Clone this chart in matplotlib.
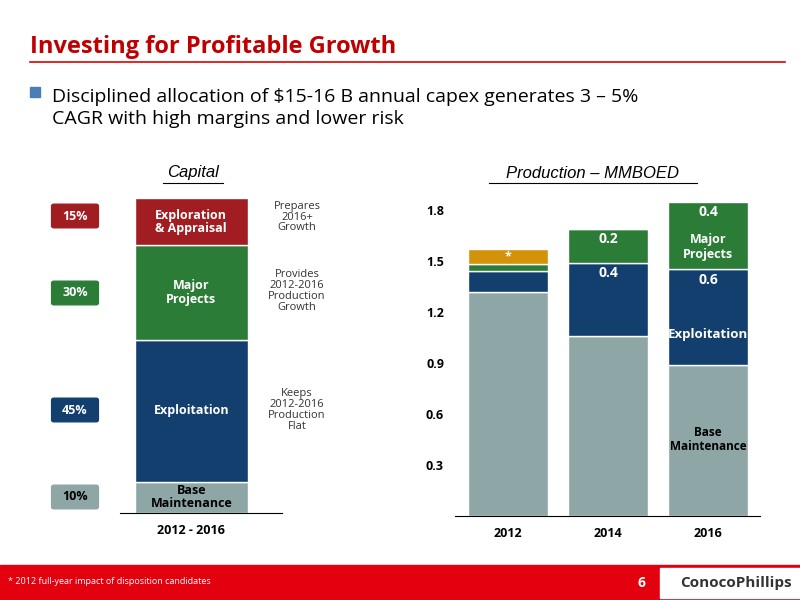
import matplotlib
matplotlib.use("Agg")
import matplotlib.pyplot as plt
from matplotlib.patches import FancyBboxPatch, Rectangle

cap_labels = ["Base\nMaintenance", "Exploitation", "Major\nProjects", "Exploration\n& Appraisal"]
cap_pct = [10, 45, 30, 15]
cap_notes = ["", "Keeps\n2012-2016\nProduction\nFlat", "Provides\n2012-2016\nProduction\nGrowth", "Prepares\n2016+\nGrowth"]

years = ["2012", "2014", "2016"]
base = [1.32, 1.06, 0.89]
exploit = [0.12, 0.43, 0.56]
major = [0.04, 0.20, 0.40]
other = [0.09, 0.0, 0.0]

C_GRAY, C_NAVY, C_GREEN, C_RED, C_GOLD = "#8FA6A6", "#123F6D", "#2B7C36", "#A11D21", "#D4920A"
cap_colors = [C_GRAY, C_NAVY, C_GREEN, C_RED]

plt.rcParams['font.family'] = ['Open Sans', 'DejaVu Sans']
fig = plt.figure(figsize=(8, 6), dpi=100)
W, H = 800, 600
def fx(x): return x / W
def fy(y): return 1 - y / H

fig.text(fx(30), fy(47), "Investing for Profitable Growth", color="#C00000", fontsize=17, fontweight="bold", va="center")
fig.add_artist(plt.Line2D([fx(30), fx(785)], [fy(62), fy(62)], color="#E00000", lw=1.2))
fig.add_artist(Rectangle((fx(30), fy(97)), fx(10), 10/H, color="#4A7FB5", transform=fig.transFigure))
fig.text(fx(52), fy(108), "Disciplined allocation of $15-16 B annual capex generates 3 – 5%\nCAGR with high margins and lower risk",
         fontsize=14, va="center", linespacing=1.25)

# bottom band
fig.add_artist(Rectangle((0, 0), 1, 35/H, color="#E3000F", transform=fig.transFigure))
fig.add_artist(Rectangle((fx(660), fy(598)), fx(140), 30/H, color="white", transform=fig.transFigure))
fig.text(fx(680), fy(583), "ConocoPhillips", fontsize=11, fontweight="bold", color="#333333", va="center")
fig.text(fx(8), fy(581), "* 2012 full-year impact of disposition candidates", fontsize=6.5, color="white", va="center")
fig.text(fx(637), fy(583), "6", fontsize=10, color="white", fontweight="bold", va="center")

# capital chart
ax1 = fig.add_axes([fx(120), fy(513), fx(162), (513 - 198) / H])
bottom = 0
for v, c, lab in zip(cap_pct, cap_colors, cap_labels):
    ax1.bar([0], [v], bottom=bottom, color=c, width=0.7, edgecolor="white", lw=1)
    ax1.text(0, bottom + v / 2, lab, ha="center", va="center", color="white" if c != C_GRAY else "black",
             fontsize=9, fontweight="bold", linespacing=1.0)
    bottom += v
ax1.set_xlim(-0.44, 0.56)
ax1.set_ylim(0, 100)
for s in ["top", "right", "left"]:
    ax1.spines[s].set_visible(False)
ax1.set_yticks([])
ax1.set_xticks([0])
ax1.set_xticklabels(["2012 - 2016"], fontsize=9, fontweight="bold")
ax1.tick_params(length=0, pad=8)
ax1.set_title("Capital", fontsize=12, style="italic", pad=8)
ax1.title.set_text("Capital")
# percent boxes & notes
ypos = [497, 410, 293, 216]
note_y = [0, 410, 291, 217]
for p, c, yy, ny, note in zip(cap_pct, cap_colors, ypos, note_y, cap_notes):
    fig.add_artist(FancyBboxPatch((fx(54), fy(yy + 10)), fx(42), 20/H, boxstyle="round,pad=0.003",
                                  color=c, transform=fig.transFigure))
    fig.text(fx(75), fy(yy), f"{p}%", ha="center", va="center", color="white" if c != C_GRAY else "black",
             fontsize=9, fontweight="bold")
    if note:
        fig.text(fx(297), fy(ny), note, ha="center", va="center", fontsize=8, color="#333333", linespacing=1.0)

# production chart
ax2 = fig.add_axes([fx(455), fy(516), fx(305), (516 - 190) / H])
x = range(len(years))
ax2.bar(x, base, color=C_GRAY, width=0.8, edgecolor="white")
b2 = [a + b for a, b in zip(base, exploit)]
ax2.bar(x, exploit, bottom=base, color=C_NAVY, width=0.8, edgecolor="white")
b3 = [a + b for a, b in zip(b2, major)]
ax2.bar(x, major, bottom=b2, color=C_GREEN, width=0.8, edgecolor="white")
ax2.bar(x, other, bottom=b3, color=C_GOLD, width=0.8, edgecolor="white")
ax2.text(0, b3[0] + other[0] / 2, "*", ha="center", va="center", color="white", fontsize=9, fontweight="bold")
for i in (1, 2):
    ax2.text(i, base[i] + exploit[i] - 0.06, f"{exploit[i]:.1f}" if i == 1 else "0.6", ha="center", va="center", color="white", fontsize=10, fontweight="bold")
    ax2.text(i, b2[i] + major[i] - 0.06, f"{major[i]:.1f}", ha="center", va="center", color="white", fontsize=10, fontweight="bold")
ax2.text(1, 1.49 - 0.1, "", color="white")
ax2.text(2, b2[2] + 0.13, "Major\nProjects", ha="center", va="center", color="white", fontsize=9, fontweight="bold")
ax2.text(2, base[2] + 0.18, "Exploitation", ha="center", va="center", color="white", fontsize=9.5, fontweight="bold")
ax2.text(2, 0.45, "Base\nMaintenance", ha="center", va="center", color="black", fontsize=8.5, fontweight="bold", linespacing=1.0)
ax2.set_xlim(-0.53, 2.52)
ax2.set_ylim(0, (516 - 190) / 170)
ax2.set_xticks(list(x))
ax2.set_xticklabels(years, fontsize=9, fontweight="bold")
ax2.set_yticks([0.3, 0.6, 0.9, 1.2, 1.5, 1.8])
ax2.set_yticklabels(["0.3", "0.6", "0.9", "1.2", "1.5", "1.8"], fontsize=9, fontweight="bold")
ax2.tick_params(length=0, pad=8)
for s in ["top", "right", "left"]:
    ax2.spines[s].set_visible(False)
fig.text(fx(593), fy(173), "Production – MMBOED", ha="center", va="center", fontsize=12, style="italic",
         family=["Liberation Sans", "DejaVu Sans"])
fig.text(fx(593), fy(182), "", ha="center")
fig.add_artist(plt.Line2D([fx(489), fx(697)], [fy(183), fy(183)], color="black", lw=0.8))
ax1.set_title("")
fig.text(fx(193), fy(173), "Capital", ha="center", va="center", fontsize=12, style="italic",
         family=["Liberation Sans", "DejaVu Sans"])
fig.add_artist(plt.Line2D([fx(163), fx(223)], [fy(183), fy(183)], color="black", lw=0.8))

fig.savefig("out.png", dpi=100)
